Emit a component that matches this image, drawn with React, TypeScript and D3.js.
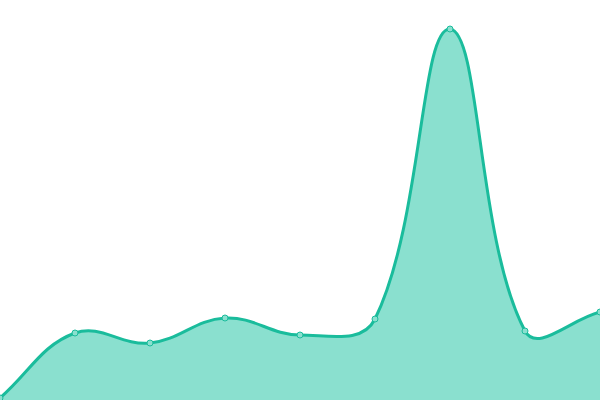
import React, { useEffect, useRef } from 'react';
import * as d3 from 'd3';

const labels = ['0', '1', '2', '3', '4', '5', '6', '7', '8'];
const values = [2, 67, 57, 82, 65, 81, 371, 69, 88];

const W = 600;
const H = 400;
const TENSION = 0.4;

// spline with distance-weighted control points (tension 0.4), as a d3 curve factory
function splineCurve(context: any) {
  let pts: [number, number][] = [];
  let lineState = NaN;
  return {
    areaStart() { lineState = 0; },
    areaEnd() { lineState = NaN; },
    lineStart() { pts = []; },
    point(x: number, y: number) { pts.push([+x, +y]); },
    lineEnd() {
      const n = pts.length;
      if (n) {
        if (lineState) context.lineTo(pts[0][0], pts[0][1]);
        else context.moveTo(pts[0][0], pts[0][1]);
        const ctrl = pts.map((cur, i) => {
          const prev = pts[Math.max(0, i - 1)];
          const next = pts[Math.min(n - 1, i + 1)];
          const d01 = Math.hypot(cur[0] - prev[0], cur[1] - prev[1]);
          const d12 = Math.hypot(next[0] - cur[0], next[1] - cur[1]);
          let s01 = d01 / (d01 + d12);
          let s12 = d12 / (d01 + d12);
          s01 = isNaN(s01) ? 0 : s01;
          s12 = isNaN(s12) ? 0 : s12;
          const fa = TENSION * s01;
          const fb = TENSION * s12;
          const clampY = (v: number) => Math.max(0, Math.min(H, v));
          const clampX = (v: number) => Math.max(0, Math.min(W, v));
          return {
            px: clampX(cur[0] - fa * (next[0] - prev[0])),
            py: clampY(cur[1] - fa * (next[1] - prev[1])),
            nx: clampX(cur[0] + fb * (next[0] - prev[0])),
            ny: clampY(cur[1] + fb * (next[1] - prev[1])),
          };
        });
        for (let i = 1; i < n; i++) {
          context.bezierCurveTo(
            ctrl[i - 1].nx, ctrl[i - 1].ny,
            ctrl[i].px, ctrl[i].py,
            pts[i][0], pts[i][1]
          );
        }
      }
      if (lineState || (lineState !== 0 && n === 1)) context.closePath();
      lineState = 1 - lineState;
    },
  };
}

const App = () => {
  const ref = useRef<SVGSVGElement>(null);

  useEffect(() => {
    const svg = d3.select(ref.current);
    svg.selectAll('*').remove();

    const x = d3.scalePoint<string>().domain(labels).range([0, W]);
    const y = d3.scaleLinear().domain([0, 400]).range([H, 0]);

    const data = labels.map((l, i) => ({ l, v: values[i] }));

    const area = d3.area<any>()
      .x(d => x(d.l) as number)
      .y0(H)
      .y1(d => y(d.v))
      .curve(splineCurve as any);

    const line = d3.line<any>()
      .x(d => x(d.l) as number)
      .y(d => y(d.v))
      .curve(splineCurve as any);

    svg.append('path')
      .datum(data)
      .attr('d', area)
      .attr('fill', '#8ae0cf');

    svg.append('path')
      .datum(data)
      .attr('d', line)
      .attr('fill', 'none')
      .attr('stroke', '#1abc9c')
      .attr('stroke-width', 3);

    svg.selectAll('.dot')
      .data(data)
      .enter()
      .append('circle')
      .attr('class', 'dot')
      .attr('cx', d => x(d.l) as number)
      .attr('cy', d => y(d.v))
      .attr('r', 3)
      .attr('fill', '#8ae0cf')
      .attr('stroke', '#1abc9c')
      .attr('stroke-width', 1);
  }, []);

  return (
    <svg
      ref={ref}
      width={W}
      height={H}
      style={{ position: 'absolute', left: 0, top: 0, background: '#fff' }}
    />
  );
};

export default App;
